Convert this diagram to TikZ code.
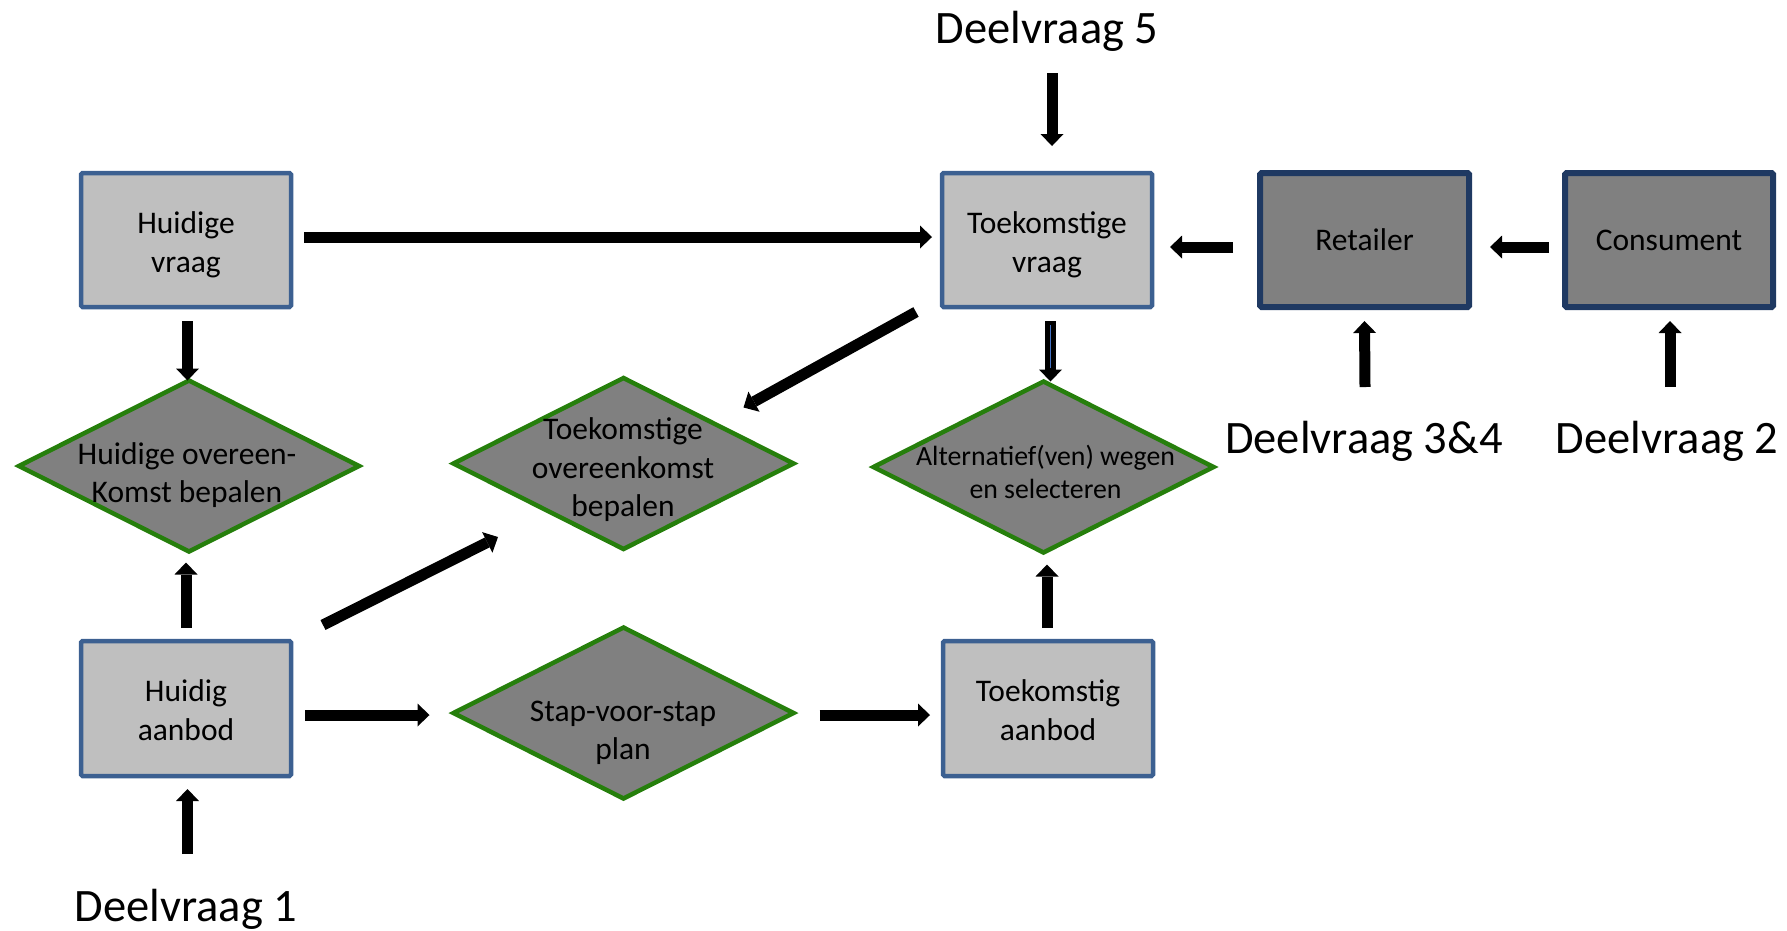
\documentclass[tikz,border=0pt]{standalone}
\usepackage{fontspec}
\setmainfont{Carlito}
\usetikzlibrary{arrows.meta,shapes.geometric,calc}

\definecolor{boxfill}{RGB}{191,191,191}
\definecolor{boxedge}{RGB}{60,96,145}
\definecolor{darkfill}{RGB}{128,128,128}
\definecolor{darkedge}{RGB}{31,57,98}
\definecolor{stepedge}{RGB}{38,127,12}
\definecolor{innerline}{RGB}{68,114,196}

% taller first line, so two-line box texts sit a little lower
\newcommand\boxstrut{\rule{0pt}{31pt}}
% descender room for a last line without descenders
\newcommand\boxdepth{\rule[-6.5pt]{0pt}{6.5pt}}

\begin{document}
\begin{tikzpicture}[x=1pt,y=-1pt,
  lightbox/.style={rectangle, draw=boxedge, line width=4.5pt, fill=boxfill,
    rounded corners=1.5pt, minimum width=210pt, minimum height=134pt,
    inner sep=0pt, outer sep=0pt, align=center,
    font=\fontsize{31.5}{38.5}\selectfont},
  darkbox/.style={lightbox, draw=darkedge, line width=6pt, fill=darkfill},
  decision/.style={diamond, draw=stepedge, line width=4.5pt, fill=darkfill,
    minimum width=340pt, minimum height=171pt, inner sep=0pt, outer sep=0pt},
  dtext/.style={align=center, inner sep=0pt,
    font=\fontsize{31.5}{38.5}\selectfont},
  qlabel/.style={anchor=base, inner sep=0pt,
    font=\fontsize{46.5}{56}\selectfont},
  arr/.style={line width=11pt,
    -{Triangle[width=23pt,length=12pt,line width=0pt]}},
]
\useasboundingbox (0,0) rectangle (1787,930);

% demand and supply boxes
\node[lightbox] (hv) at (186,240) {\boxstrut Huidige\\vraag};
\node[lightbox] (tv) at (1047,240) {\boxstrut Toekomstige\\vraag};
\node[darkbox, minimum width=209pt] (ret) at (1364.5,240) {Retailer};
\node[darkbox, minimum width=208pt] (con) at (1669,240) {Consument};
\node[lightbox, minimum height=135pt] (ha) at (186,708.5)
  {\boxstrut Huidig\\aanbod\boxdepth};
\node[lightbox, minimum height=135pt] (ta) at (1048,708.5)
  {\boxstrut Toekomstig\\aanbod\boxdepth};

% decision steps
\node[decision] (hok) at (189,466) {};
\node[decision] (tok) at (623.5,463.5) {};
\node[decision] (alt) at (1043.5,467) {};
\node[decision] (stap) at (623.5,713) {};

\node[dtext] (hokt) at (187,475) {Huidige overeen-\\Komst bepalen};
\node[dtext] (tokt) at (623,470) {Toekomstige\\overeenkomst\\bepalen};
\node[dtext, font=\fontsize{27.8}{33}\selectfont] (altt) at (1045.5,471.5)
  {Alternatief(ven) wegen\\en selecteren};
\node[dtext] (stapt) at (623,733) {Stap-voor-stap\\plan};

% research questions
\node[qlabel] (d5) at (1047,43) {Deelvraag 5};
\node[qlabel] (d34) at (1364,453) {Deelvraag 3\&4};
\node[qlabel] (d2) at (1667,453) {Deelvraag 2};
\node[qlabel] (d1) at (186,921) {Deelvraag 1};

% connectors
\draw[arr] ($(d5.base)+(5,30)$) -- ($(tv.north)+(5,-27)$);
\draw[arr] ($(hv.east)+(13,-3)$) -- ($(tv.west)+(-10,-3)$);
\draw[arr] ($(ret.west)+(-27,7)$) -- ($(tv.east)+(18,7)$);
\draw[arr] ($(con.west)+(-16,7)$) -- ($(ret.east)+(21,7)$);
\draw[arr] ($(d34.base)+(1,-66)$) -- ($(ret.south)+(0,14)$);
\draw[arr] ($(d2.base)+(3,-66)$) -- ($(con.south)+(1,14)$);
\draw[arr] ($(hv.south)+(1.5,14)$) -- ($(hok.north)+(-1.5,0)$);
\draw[arr] ($(tv.south west)+(-26,5)$) -- ($(tok.center)+(120,-56)$);
\draw[arr] ($(tv.south)+(3.5,14)$) -- ($(alt.north)+(7,0)$);
\draw[innerline, line width=1.8pt] ($(tv.south)+(3.5,18)$) -- ($(alt.north)+(7,-14)$);
\draw[arr] ($(ha.north)+(0,-13)$) -- ($(hok.south)+(-3,11)$);
\draw[arr] ($(ha.north east)+(32,-16)$) -- ($(tok.center)+(-125.5,73.5)$);
\draw[arr] ($(ha.east)+(14,6.5)$) -- ($(stap.west)+(-24,2)$);
\draw[arr] ($(stap.east)+(26,2)$) -- ($(ta.west)+(-13,6.5)$);
\draw[arr] ($(ta.north)+(-1,-13)$) -- ($(alt.south)+(3.5,12)$);
\draw[arr] ($(d1.base)+(1.5,-67)$) -- ($(ha.south)+(1.5,13)$);
\end{tikzpicture}
\end{document}
